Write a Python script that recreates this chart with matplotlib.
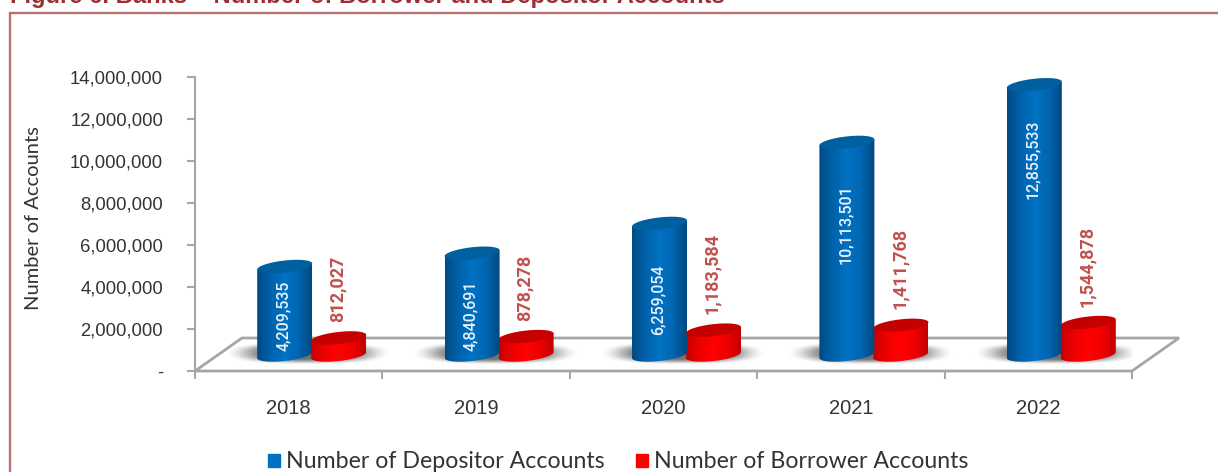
# plot.py - banks, borrower and depositor accounts
import numpy as np
import matplotlib
matplotlib.use("Agg")
import matplotlib.pyplot as plt
from matplotlib.patches import Polygon, Rectangle, Patch
from matplotlib.colors import LinearSegmentedColormap
from matplotlib.ticker import FuncFormatter

# -----------------------------
# Data
# -----------------------------
years = ["2018", "2019", "2020", "2021", "2022"]
depositors = [4209535, 4840691, 6259054, 10113501, 12855533]
borrowers = [812027, 878278, 1183584, 1411768, 1544878]
y_ticks = [0, 2000000, 4000000, 6000000, 8000000, 10000000, 12000000, 14000000]

# how far each white label starts below the bar top, px
blue_label_drop = [14, 27, 41, 42, 35]

# -----------------------------
# Figure and scales
# -----------------------------
W, H = 1218, 472
fig = plt.figure(figsize=(W / 100, H / 100), dpi=100)
ax_left, ax_right, ax_top, ax_bottom = 195, 1132, 76.7, 371
ax = fig.add_axes([ax_left / W, 1 - ax_bottom / H, (ax_right - ax_left) / W, (ax_bottom - ax_top) / H])
ax.set_xlim(-0.5, 4.5)
ax.set_ylim(0, 14000000)
ax.set_autoscale_on(False)

PX_X = 5 / (ax_right - ax_left)      # category units per pixel
PX_Y = 14000000 / (ax_bottom - ax_top)  # value units per pixel

grey = "#a6a6a6"
text_col = "#333333"
gothic = ["Lato", "DejaVu Sans"]
arial = ["Liberation Sans", "DejaVu Sans"]

# -----------------------------
# Outer frame and clipped title
# -----------------------------
fig.add_artist(Rectangle((10 / W, -0.1), 1.2, 1.1 - 13 / H, transform=fig.transFigure,
                         fill=False, edgecolor="#b87070", linewidth=1.7))
fig.text(10 / W, 1 - 3 / H, "Figure 6. Banks \u2013 Number of Borrower and Depositor Accounts",
         color="#9c2f33", fontsize=17.1, fontweight="bold", family=arial, va="baseline", ha="left")

# -----------------------------
# Floor
# -----------------------------
depth_x, depth_y = 47 * PX_X, 33 * PX_Y
floor_front_l = (-0.5, 0)
floor_front_r = (4.5, 0)
floor_back_r = (4.5 + depth_x, depth_y)
floor_back_l = (-0.5 + depth_x, depth_y)
ax.add_patch(Polygon([floor_front_l, floor_front_r, floor_back_r, floor_back_l], closed=True,
                     facecolor="#ffffff", edgecolor=grey, linewidth=2, clip_on=False, zorder=1))

# -----------------------------
# Shadows and cylinders
# -----------------------------
base_y = 16 * PX_Y
half_w = 27.5 * PX_X
ell_b = 6 * PX_Y
ell_tilt = 3 * PX_Y
blue_dx = -4 * PX_X
red_dx = 50 * PX_X

blue_map = LinearSegmentedColormap.from_list("b", ["#004a85", "#0062aa", "#0072c4", "#0066b2", "#00497f"])
red_map = LinearSegmentedColormap.from_list("r", ["#c80000", "#ef0000", "#ff0000", "#ef0000", "#c00000"])


def ellipse_points(cx, cy):
    t = np.linspace(0, 2 * np.pi, 120)
    return cx + half_w * np.cos(t), cy + ell_b * np.sin(t) + ell_tilt * np.cos(t)


def cylinder(cx, value, cmap, top_col):
    top = base_y + value
    bx, by = ellipse_points(cx, base_y)
    tx, ty = ellipse_points(cx, top)
    lower = by <= base_y + ell_tilt * np.cos(np.linspace(0, 2 * np.pi, 120))
    idx = np.where(lower)[0]
    x_low, y_low = bx[idx], by[idx]
    order = np.argsort(x_low)
    outline = list(zip(x_low[order], y_low[order]))
    outline += [(cx + half_w, top + ell_tilt), (cx - half_w, top - ell_tilt)]
    grad = np.linspace(0, 1, 128).reshape(1, -1)
    im = ax.imshow(grad, cmap=cmap, aspect="auto", zorder=4,
                   extent=[cx - half_w, cx + half_w, base_y - 2 * ell_b, top + 2 * ell_b])
    clip = Polygon(outline, closed=True, transform=ax.transData, facecolor="none", edgecolor="none")
    ax.add_patch(clip)
    im.set_clip_path(clip)
    ax.fill(tx, ty, color=top_col, zorder=5, linewidth=0)


for i in range(len(years)):
    # soft grey shadow on the floor, rounded and fading out at its edges
    sx = np.linspace(-1, 1, 160)
    sy = np.linspace(-1, 1, 50)
    gx, gy = np.meshgrid(sx, sy)
    r = (np.abs(gx) ** 2.5 + np.abs(gy) ** 2.5) ** (1 / 2.5)
    fade = np.clip((1 - r) / 0.55, 0, 1)
    rgba = np.zeros((50, 160, 4))
    rgba[..., :3] = 0.3
    rgba[..., 3] = 0.8 * fade * fade * (3 - 2 * fade)
    ax.imshow(rgba, aspect="auto", zorder=2, interpolation="bilinear",
              extent=[i + 19 * PX_X - 84 * PX_X, i + 19 * PX_X + 84 * PX_X, 6 * PX_Y, 30 * PX_Y])
    cylinder(i + red_dx, borrowers[i], red_map, "#c40000")
    cylinder(i + blue_dx, depositors[i], blue_map, "#005f9e")

# -----------------------------
# Data labels
# -----------------------------
for i in range(len(years)):
    ax.annotate(f"{depositors[i]:,}", (i + blue_dx, base_y + depositors[i]),
                xytext=(-1, -blue_label_drop[i] * 0.72), textcoords="offset points",
                rotation=90, ha="center", va="top", color="#e8f1fa", fontsize=11.5,
                fontweight="medium", family=["Roboto", "DejaVu Sans"], zorder=6)
    ax.annotate(f"{borrowers[i]:,}", (i + red_dx, base_y + borrowers[i]),
                xytext=(-1, 16 * 0.72), textcoords="offset points",
                rotation=90, ha="center", va="bottom", color="#c0504d", fontsize=13,
                fontweight="bold", family=["Roboto", "DejaVu Sans"], zorder=6)

# -----------------------------
# Axes
# -----------------------------
for side in ["top", "right", "bottom"]:
    ax.spines[side].set_visible(False)
ax.spines["left"].set_color(grey)
ax.spines["left"].set_linewidth(1.5)
ax.set_yticks(y_ticks)
ax.yaxis.set_major_formatter(FuncFormatter(lambda v, _: "-" if v == 0 else f"{int(v):,}"))
ax.tick_params(axis="y", color=grey, width=1.5, length=6, pad=17, labelsize=13.3, labelcolor=text_col)
ax.set_xticks(np.arange(-0.5, 5, 1))
ax.set_xticklabels([])
ax.tick_params(axis="x", which="major", color=grey, width=1.5, length=6)
ax.set_xticks(np.arange(5), minor=True)
ax.set_xticklabels(years, minor=True)
ax.tick_params(axis="x", which="minor", length=0, pad=20, labelsize=14.5, labelcolor=text_col)
for lab in ax.get_xticklabels(minor=True) + ax.get_yticklabels():
    lab.set_family(arial)
fig.text(34 / W, 1 - 218 / H, "Number of Accounts", rotation=90, ha="center", va="center",
         fontsize=14.5, color=text_col, family=gothic)

# -----------------------------
# Legend
# -----------------------------
handles = [Patch(color="#0070c0", label="Number of Depositor Accounts"),
           Patch(color="#ff0000", label="Number of Borrower Accounts")]
leg = fig.legend(handles=handles, loc="center", bbox_to_anchor=(618 / W, 1 - 462 / H), ncols=2, frameon=False,
                 handlelength=0.52, handleheight=0.52, handletextpad=0.25, columnspacing=1.35,
                 prop={"family": gothic, "size": 16.7}, labelcolor=text_col)

fig.savefig("out.png", dpi=100)
